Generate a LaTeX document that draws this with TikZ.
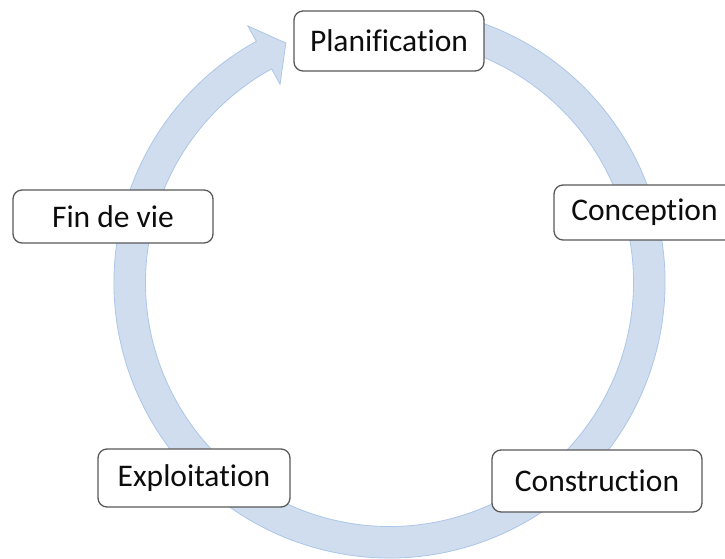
\documentclass[tikz,border=0pt]{standalone}
\usepackage{fontspec}
\setmainfont{Carlito}[Ligatures=NoCommon]
\usetikzlibrary{calc}
\definecolor{bandfill}{RGB}{208,221,238}
\definecolor{bandline}{RGB}{172,198,232}
\definecolor{boxline}{RGB}{89,89,89}
\begin{document}
\begin{tikzpicture}[x=1pt,y=1pt,
  stage/.style={draw=boxline, line width=1.3pt, fill=white, rounded corners=9pt,
    font=\fontsize{31.5}{36}\selectfont, text=black!95, inner sep=0pt, align=center}]
\useasboundingbox (0,0) rectangle (725,559);
\clip (0,0) rectangle (725,559);
\coordinate (C) at (389.5,276.5);
% circular arrow band
\path[fill=bandfill, draw=bandline, line width=0.8pt, line join=miter]
  ($(C)+(75:275.5)$) arc[start angle=75, end angle=-241.1, radius=275.5]
  -- ($(C)+(118.9:293)$)
  -- ($(C)+(118.9:259.75)+(28.9:25)$)
  -- ($(C)+(118.9:226.5)$)
  -- ($(C)+(118.9:244)$)
  arc[start angle=118.9, end angle=435, radius=244] -- cycle;
% stages
\node[stage, minimum width=190pt, minimum height=60pt] (plan) at (389,518) {Planification};
\node[stage, minimum width=181pt, minimum height=55pt] (conc) at (644.5,346.5) {Conception};
\node[stage, minimum width=210pt, minimum height=62pt] (cons) at (597,78) {Construction};
\node[stage, minimum width=192pt, minimum height=58pt] (expl) at (194,81) {Exploitation};
\node[stage, minimum width=200pt, minimum height=53pt] (fin) at (113,342.5) {Fin de vie};
\end{tikzpicture}
\end{document}
